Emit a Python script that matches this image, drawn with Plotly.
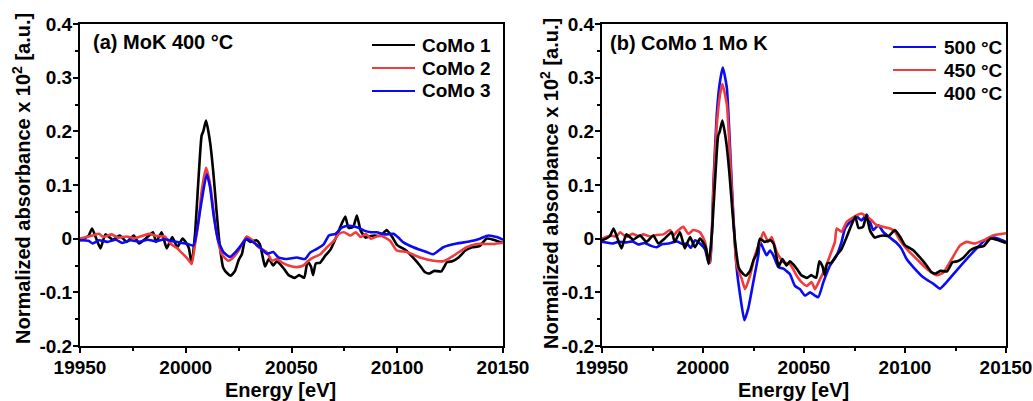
import plotly.graph_objects as go

# ---------------- data ----------------
# CoMo 1 at 400 °C (black) - shown in both panels
como1_e = [19950, 19952, 19954, 19955.7, 19957.5, 19959.7, 19962, 19965.5, 19968.8, 19972,
           19975.4, 19977.9, 19981, 19984.5, 19986, 19988.6, 19991, 19993.6, 19996, 19998.5,
           20000.5, 20001.5, 20002.8, 20004.4, 20006, 20007.5, 20008.3, 20009.6, 20011.5, 20013,
           20014.5, 20016, 20017.7, 20020, 20021.3, 20023.3, 20025, 20026.6, 20028.2, 20030.5,
           20033.4, 20035, 20036.7, 20037.5, 20039.3, 20041.4, 20043, 20044.7, 20046.4, 20048.7,
           20051.5, 20053.6, 20056, 20057.6, 20059.2, 20060.2, 20061.5, 20063.5, 20066.1, 20068.5,
           20070.8, 20072.8, 20075.4, 20077, 20079.2, 20080.9, 20082.7, 20085, 20087.5, 20089.3,
           20092, 20095, 20097.5, 20100, 20104.2, 20107.4, 20110.7, 20113, 20115.2, 20117.5,
           20120.8, 20123.5, 20126, 20129, 20132.2, 20135.5, 20138.9, 20142.2, 20145.4, 20150]
como1_v = [-0.003, 0.0, 0.005, 0.019, 0.002, -0.018, 0.008, -0.002, 0.006, -0.006,
           0.006, -0.009, 0.0, 0.012, -0.006, 0.012, -0.018, 0.003, -0.016, 0.0,
           -0.01, -0.018, -0.047, 0.01, 0.11, 0.192, 0.2, 0.22, 0.18, 0.125,
           0.054, -0.01, -0.054, -0.066, -0.069, -0.06, -0.04, -0.028, 0.0, -0.006,
           -0.003, -0.01, -0.04, -0.052, -0.038, -0.05, -0.042, -0.048, -0.056, -0.068,
           -0.073, -0.068, -0.073, -0.042, -0.052, -0.068, -0.046, -0.045, -0.031, -0.02,
           0.0, 0.019, 0.041, 0.02, 0.022, 0.043, 0.015, 0.002, 0.005, 0.006,
           0.005, 0.016, 0.004, -0.012, -0.022, -0.035, -0.05, -0.062, -0.065, -0.06,
           -0.061, -0.044, -0.042, -0.035, -0.022, -0.016, -0.014, 0.0, -0.002, -0.008]

# CoMo 2 (red, left panel)
como2_e = [19950, 19953, 19956, 19959, 19961, 19965, 19968, 19972, 19976, 19980,
           19983, 19986, 19990, 19993, 19996, 19998, 20001, 20002.8, 20004.4, 20006,
           20007.5, 20009.6, 20011.5, 20013.1, 20014.6, 20017, 20020, 20021.7, 20025, 20028.8,
           20031.2, 20034.4, 20038.3, 20040.7, 20043, 20045.4, 20048.6, 20052.5, 20055.6, 20058,
           20060.4, 20063.7, 20066.8, 20070, 20072.4, 20074.8, 20078, 20080.4, 20082.7, 20085.1,
           20087.5, 20091.9, 20096.6, 20099.7, 20104.5, 20110.8, 20117.1, 20121.8, 20126.5, 20132.8,
           20137.6, 20145.4, 20150]
como2_v = [0.0, 0.003, 0.006, 0.009, 0.003, 0.008, 0.002, 0.004, 0.001, 0.006,
           0.009, 0.005, 0.004, -0.01, -0.018, -0.026, -0.038, -0.047, -0.01, 0.03,
           0.088, 0.132, 0.102, 0.052, 0.009, -0.029, -0.041, -0.038, -0.022, 0.004,
           -0.002, -0.016, -0.025, -0.041, -0.038, -0.044, -0.05, -0.053, -0.05, -0.041,
           -0.035, -0.029, -0.016, -0.004, 0.009, 0.012, 0.006, 0.012, 0.003, 0.009,
           0.0, 0.006, -0.004, -0.022, -0.025, -0.035, -0.041, -0.042, -0.032, -0.016,
           -0.01, -0.01, -0.007]

# CoMo 3 (blue, left panel)
como3_e = [19950, 19954, 19956, 19959, 19963, 19967, 19970, 19974, 19978, 19982,
           19986, 19990, 19994, 19998, 20001, 20003.6, 20004.4, 20006, 20007.5, 20009.9,
           20011.5, 20013.1, 20015.4, 20017.8, 20020.9, 20024, 20027.2, 20028.8, 20032, 20035,
           20038.3, 20041.4, 20043.8, 20047.8, 20052.5, 20056.4, 20058.8, 20062, 20065.3, 20067.7,
           20070.8, 20074, 20077.2, 20081.3, 20084.4, 20087.5, 20090.3, 20094, 20098.2, 20100.5,
           20102.9, 20107.6, 20113.9, 20117.1, 20121.8, 20128.1, 20134.4, 20139.1, 20143, 20147,
           20150]
como3_v = [-0.003, -0.004, -0.009, -0.003, -0.006, -0.002, -0.008, -0.003, -0.006, -0.002,
           -0.005, -0.001, -0.005, -0.008, -0.01, -0.013, -0.004, 0.033, 0.07, 0.12,
           0.096, 0.046, -0.004, -0.025, -0.034, -0.023, -0.007, 0.0, -0.007, -0.016,
           -0.028, -0.025, -0.035, -0.038, -0.035, -0.038, -0.026, -0.019, -0.01, 0.006,
           0.009, 0.021, 0.024, 0.021, 0.015, 0.012, 0.012, 0.008, 0.009, 0.002,
           -0.007, -0.016, -0.025, -0.029, -0.016, -0.009, -0.005, 0.0, 0.006, 0.003,
           -0.002]

# CoMo 1 at 500 °C (blue, right panel)
t500_e = [19950, 19952, 19955, 19958, 19962, 19965, 19968, 19971, 19974, 19977,
          19980, 19983, 19987, 19990, 19992, 19994, 19996, 19999, 20001, 20002.8,
          20003.5, 20005.2, 20006.8, 20008.3, 20009.8, 20011.8, 20013.4, 20015, 20016.7, 20018.4,
          20020.5, 20022.4, 20024.9, 20027.4, 20028.2, 20029.9, 20031.5, 20033.2, 20034.8, 20037.3,
          20039.8, 20043, 20045.5, 20048, 20050.5, 20053, 20055.4, 20057.1, 20059.6, 20062.9,
          20066.2, 20068.6, 20070.3, 20072.8, 20076.1, 20078.5, 20081, 20082.7, 20084.3, 20086.8,
          20089.3, 20092.5, 20095.9, 20098.3, 20100.8, 20104.1, 20109, 20114, 20117.3, 20120.6,
          20125.6, 20130.5, 20135.5, 20139.6, 20142.9, 20146.2, 20150]
t500_v = [-0.006, -0.007, -0.009, -0.006, -0.007, -0.005, -0.011, -0.008, -0.013, -0.016,
          -0.01, -0.009, -0.005, -0.01, -0.009, -0.017, -0.003, -0.011, -0.02, -0.045,
          -0.044, 0.106, 0.231, 0.29, 0.319, 0.281, 0.169, 0.044, -0.056, -0.106,
          -0.152, -0.13, -0.081, -0.031, -0.006, -0.019, -0.031, -0.022, -0.031, -0.053,
          -0.056, -0.066, -0.088, -0.094, -0.106, -0.1, -0.106, -0.109, -0.081, -0.05,
          -0.031, -0.006, 0.019, 0.031, 0.041, 0.034, 0.045, 0.031, 0.016, 0.025,
          0.012, 0.002, -0.008, -0.019, -0.038, -0.053, -0.072, -0.084, -0.093, -0.081,
          -0.059, -0.038, -0.018, -0.003, 0.003, 0.0, -0.006]

# CoMo 1 at 450 °C (red, right panel)
t450_e = [19950, 19952, 19954, 19957, 19959, 19962, 19965, 19968, 19970.5, 19974,
          19977, 19980.4, 19983.7, 19985.5, 19987, 19990.3, 19992.7, 19995.2, 19998.5, 20001,
          20002.6, 20003.5, 20005.2, 20006.8, 20008.5, 20009.6, 20011.8, 20013.4, 20015, 20016.7,
          20019.2, 20020.8, 20023.3, 20025.7, 20028.2, 20029.9, 20032.3, 20034, 20036.5, 20039.8,
          20043, 20046.4, 20048.8, 20051.3, 20053.8, 20055.4, 20058, 20060.4, 20062.9, 20065.3,
          20066.2, 20068.6, 20071.1, 20073.6, 20076.1, 20078.5, 20081, 20083.5, 20086, 20089.3,
          20092.6, 20095, 20097.5, 20100.8, 20105.8, 20110.7, 20115.7, 20119, 20123.1, 20127.2,
          20130.5, 20134.6, 20138.8, 20143.7, 20150]
t450_v = [0.0, 0.003, 0.006, 0.004, 0.012, 0.003, 0.009, 0.005, 0.008, 0.004,
          0.007, 0.008, 0.016, 0.006, 0.013, 0.022, 0.009, 0.016, 0.012, -0.006,
          -0.04, -0.045, 0.094, 0.21, 0.27, 0.288, 0.25, 0.15, 0.038, -0.05,
          -0.075, -0.094, -0.069, -0.031, -0.006, 0.012, -0.006, 0.003, -0.025, -0.044,
          -0.047, -0.069, -0.081, -0.088, -0.081, -0.094, -0.075, -0.056, -0.031, -0.006,
          0.019, 0.013, 0.031, 0.038, 0.044, 0.047, 0.041, 0.034, 0.025, 0.022,
          0.019, 0.013, -0.003, -0.019, -0.038, -0.056, -0.068, -0.063, -0.038, -0.013,
          -0.006, -0.009, -0.003, 0.006, 0.01]

x_ticks = [19950, 20000, 20050, 20100, 20150]
x_ticklabels = ["19950", "20000", "20050", "20100", "20150"]
y_ticks = [-0.2, -0.1, 0, 0.1, 0.2, 0.3, 0.4]
y_ticklabels = ["-0.2", "-0.1", "0", "0.1", "0.2", "0.3", "0.4"]

left_names = ["CoMo 1", "CoMo 2", "CoMo 3"]
right_names = ["500 °C", "450 °C", "400 °C"]

BLACK = "#000000"
RED = "#F03C3C"
BLUE = "#0A0AF5"
FONT = "Liberation Sans, Arial, sans-serif"
LW = 2.6
W, H = 1033, 401

fig = go.Figure()

left_series = [(como1_e, como1_v, BLACK), (como2_e, como2_v, RED), (como3_e, como3_v, BLUE)]
right_series = [(t500_e, t500_v, BLUE), (t450_e, t450_v, RED), (como1_e, como1_v, BLACK)]

for (e, v, c), name in zip(left_series, left_names):
    fig.add_trace(go.Scatter(x=e, y=v, mode="lines", name=name,
                             line=dict(color=c, width=LW, shape="spline", smoothing=0.5),
                             xaxis="x", yaxis="y", showlegend=False))
for (e, v, c), name in zip(right_series, right_names):
    fig.add_trace(go.Scatter(x=e, y=v, mode="lines", name=name,
                             line=dict(color=c, width=LW, shape="spline", smoothing=0.5),
                             xaxis="x2", yaxis="y2", showlegend=False))

ydom = [1 - 346 / H, 1 - 24 / H]


def xax(dom, anchor):
    return dict(domain=dom, range=[19950, 20150], tickvals=x_ticks, ticktext=x_ticklabels,
                anchor=anchor, ticks="outside", ticklen=5, tickwidth=1.5, tickcolor="black",
                ticklabelstandoff=-2,
                minor=dict(ticks="outside", ticklen=3, tickwidth=1.5, tickcolor="black", dtick=25,
                           tick0=19950, showgrid=False),
                showline=True, linewidth=2, linecolor="black", mirror=True,
                showgrid=False, zeroline=False, automargin=False,
                tickfont=dict(family=FONT, size=19, color="black", weight="bold"))


def yax(dom, anchor):
    return dict(domain=dom, range=[-0.2, 0.4], tickvals=y_ticks, ticktext=y_ticklabels,
                anchor=anchor, ticks="outside", ticklen=5, tickwidth=1.5, tickcolor="black",
                ticklabelstandoff=-3,
                minor=dict(ticks="outside", ticklen=3, tickwidth=1.5, tickcolor="black", dtick=0.05,
                           tick0=0, showgrid=False),
                showline=True, linewidth=2, linecolor="black", mirror=True,
                showgrid=False, zeroline=False, automargin=False,
                tickfont=dict(family=FONT, size=19, color="black", weight="bold"))


title_font = dict(family=FONT, size=20, color="black", weight="bold")
legend_font = dict(family=FONT, size=19, color="black", weight="bold")
ytitle = "Normalized absorbance x 10<sup>2</sup> [a.u.]"

# legend keys (drawn as paper-space decorations)
shapes = []
annotations = []
legend_specs = [
    (left_names, [BLACK, RED, BLUE], 372, 415, 420, [45, 68, 91]),
    (right_names, [BLUE, RED, BLACK], 893, 936, 942, [47, 70, 93]),
]
for names, cols, x0, x1, xt, rows in legend_specs:
    for name, col, yr in zip(names, cols, rows):
        shapes.append(dict(type="line", xref="paper", yref="paper", x0=x0 / W, x1=x1 / W,
                           y0=1 - yr / H, y1=1 - yr / H, line=dict(color=col, width=2)))
        annotations.append(dict(text=name, x=xt / W, y=1 - yr / H, xref="paper", yref="paper",
                                xanchor="left", yanchor="middle", showarrow=False, font=legend_font))

annotations += [
    dict(text="(a) MoK 400 °C", x=91 / W, y=1 - 42 / H, xref="paper", yref="paper",
         xanchor="left", yanchor="middle", showarrow=False, font=title_font),
    dict(text="(b) CoMo 1 Mo K", x=608 / W, y=1 - 43 / H, xref="paper", yref="paper",
         xanchor="left", yanchor="middle", showarrow=False, font=title_font),
    dict(text="Energy [eV]", x=280 / W, y=1 - 390 / H, xref="paper", yref="paper",
         xanchor="center", yanchor="middle", showarrow=False, font=title_font),
    dict(text="Energy [eV]", x=793 / W, y=1 - 390 / H, xref="paper", yref="paper",
         xanchor="center", yanchor="middle", showarrow=False, font=title_font),
    dict(text=ytitle, x=21 / W, y=1 - 179 / H, xref="paper", yref="paper", textangle=-90,
         xanchor="center", yanchor="middle", showarrow=False, font=title_font),
    dict(text=ytitle, x=549 / W, y=1 - 184 / H, xref="paper", yref="paper", textangle=-90,
         xanchor="center", yanchor="middle", showarrow=False, font=title_font),
]

fig.update_layout(
    width=W, height=H, autosize=False,
    margin=dict(l=0, r=0, t=0, b=0),
    paper_bgcolor="white", plot_bgcolor="white",
    showlegend=False,
    xaxis=xax([80 / W, 503 / W], "y"), yaxis=yax(ydom, "x"),
    xaxis2=xax([602 / W, 1006 / W], "y2"), yaxis2=yax(ydom, "x2"),
    shapes=shapes,
    annotations=annotations,
)

fig.write_html("out.html")
